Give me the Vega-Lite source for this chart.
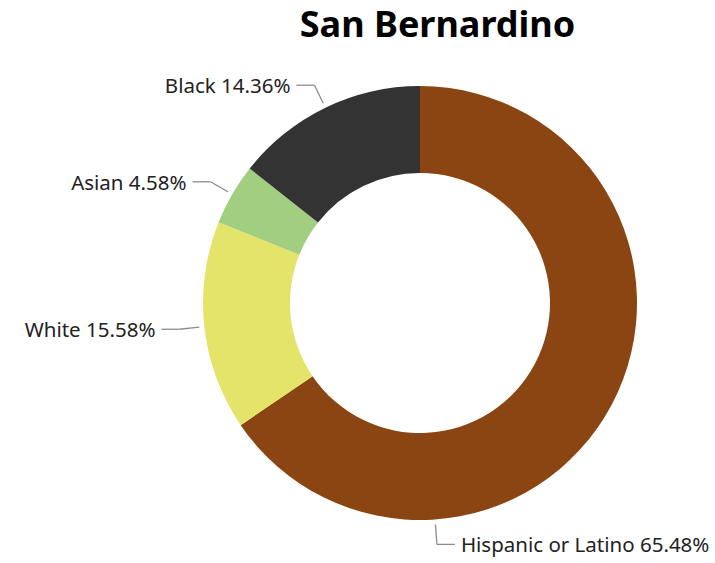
{
  "$schema": "https://vega.github.io/schema/vega-lite/v6.json",
  "width": 715,
  "height": 513,
  "autosize": {"type": "none"},
  "padding": {"left": 0, "right": 0, "top": 50, "bottom": 0},
  "background": "white",
  "config": {"view": {"stroke": null}},
  "title": {"text": "San Bernardino", "fontSize": 36, "font": "Noto Sans", "fontWeight": "bold", "color": "#000000", "anchor": "middle", "dx": 80, "dy": 33, "offset": 10, "baseline": "alphabetic"},
  "data": {"values": [
    {"category": "Hispanic or Latino", "value": 65.48, "order": 1},
    {"category": "White", "value": 15.58, "order": 2},
    {"category": "Asian", "value": 4.58, "order": 3},
    {"category": "Black", "value": 14.36, "order": 4}
  ]},
  "transform": [
    {"window": [{"op": "sum", "field": "value", "as": "cum"}], "sort": [{"field": "order"}], "frame": [null, 0]},
    {"joinaggregate": [{"op": "sum", "field": "value", "as": "total"}]},
    {"calculate": "(datum.cum - datum.value/2)/datum.total*2*PI", "as": "mid"},
    {"calculate": "datum.category == 'Hispanic or Latino' ? PI*176/180 : datum.mid", "as": "a"},
    {"calculate": "sin(datum.a) >= 0 ? 1 : -1", "as": "side"},
    {"calculate": "222*sin(datum.a)", "as": "px1"},
    {"calculate": "222*cos(datum.a)", "as": "py1"},
    {"calculate": "242*sin(datum.a)", "as": "px2"},
    {"calculate": "242*cos(datum.a)", "as": "py2"},
    {"calculate": "datum.px2 + 18*datum.side", "as": "px3"},
    {"calculate": "datum.px3 + 6*datum.side", "as": "pxl"},
    {"calculate": "datum.category + ' ' + format(datum.value, '.2f') + '%'", "as": "label"}
  ],
  "layer": [
    {
      "mark": {"type": "arc", "innerRadius": 130, "outerRadius": 217},
      "encoding": {
        "theta": {"field": "value", "type": "quantitative", "stack": true},
        "order": {"field": "order", "type": "quantitative"},
        "color": {"field": "category", "type": "nominal", "legend": null,
          "scale": {"domain": ["Hispanic or Latino", "White", "Asian", "Black"], "range": ["#8B4513", "#E4E46A", "#A1CF7F", "#333333"]}},
        "x": {"datum": 0, "type": "quantitative", "scale": {"domain": [-420, 295], "nice": false, "zero": false}, "axis": null},
        "y": {"datum": 0, "type": "quantitative", "scale": {"domain": [-260, 253], "nice": false, "zero": false}, "axis": null}
      }
    },
    {
      "mark": {"type": "rule", "color": "#8c8c8c", "strokeWidth": 1.3},
      "encoding": {
        "x": {"field": "px1", "type": "quantitative", "scale": {"domain": [-420, 295], "nice": false, "zero": false}, "axis": null},
        "y": {"field": "py1", "type": "quantitative", "scale": {"domain": [-260, 253], "nice": false, "zero": false}, "axis": null},
        "x2": {"field": "px2"},
        "y2": {"field": "py2"}
      }
    },
    {
      "mark": {"type": "rule", "color": "#8c8c8c", "strokeWidth": 1.3},
      "encoding": {
        "x": {"field": "px2", "type": "quantitative", "scale": {"domain": [-420, 295], "nice": false, "zero": false}, "axis": null},
        "y": {"field": "py2", "type": "quantitative", "scale": {"domain": [-260, 253], "nice": false, "zero": false}, "axis": null},
        "x2": {"field": "px3"},
        "y2": {"field": "py2"}
      }
    },
    {
      "transform": [{"filter": "datum.side < 0"}],
      "mark": {"type": "text", "align": "right", "baseline": "middle", "dy": 2, "font": "Noto Sans", "fontSize": 20.5, "color": "#222222"},
      "encoding": {
        "x": {"field": "pxl", "type": "quantitative", "scale": {"domain": [-420, 295], "nice": false, "zero": false}, "axis": null},
        "y": {"field": "py2", "type": "quantitative", "scale": {"domain": [-260, 253], "nice": false, "zero": false}, "axis": null},
        "text": {"field": "label"}
      }
    },
    {
      "transform": [{"filter": "datum.side > 0"}],
      "mark": {"type": "text", "align": "left", "baseline": "middle", "dy": 2, "font": "Noto Sans", "fontSize": 20.5, "color": "#222222"},
      "encoding": {
        "x": {"field": "pxl", "type": "quantitative", "scale": {"domain": [-420, 295], "nice": false, "zero": false}, "axis": null},
        "y": {"field": "py2", "type": "quantitative", "scale": {"domain": [-260, 253], "nice": false, "zero": false}, "axis": null},
        "text": {"field": "label"}
      }
    }
  ]
}
